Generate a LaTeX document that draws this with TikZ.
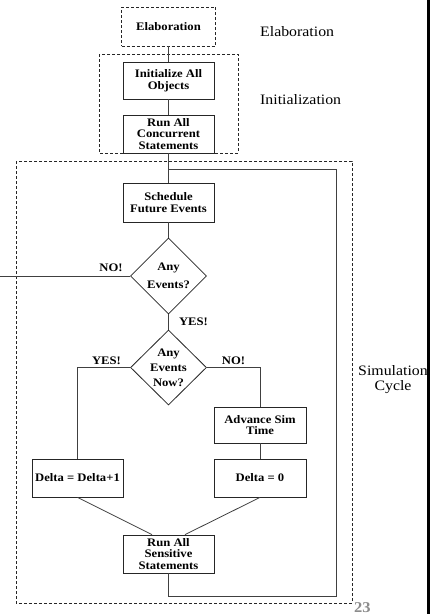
\documentclass[tikz,border=0pt]{standalone}
\usepackage{fontspec}
\setmainfont{Liberation Serif}[FakeStretch=1.1]
\usetikzlibrary{shapes.geometric,calc}
\begin{document}
\begin{tikzpicture}[x=1pt,y=-1pt,
  ln/.style={draw=black!75, line width=0.8pt},
  dbox/.style={draw=black!85, dash pattern=on 3pt off 2pt, line width=0.7pt},
  box/.style={draw=black!85, line width=0.8pt, rectangle, minimum width=91pt, minimum height=38pt, inner sep=0pt, align=center, font=\bfseries\fontsize{11.5}{11.5}\selectfont},
  dia/.style={draw=black!85, line width=0.8pt, diamond, aspect=1, minimum width=76pt, minimum height=76pt, inner sep=0pt, align=center},
  lab/.style={font=\bfseries\fontsize{11.5}{12}\selectfont, inner sep=0pt},
  side/.style={font=\fontsize{14.4}{15}\selectfont, inner sep=0pt, align=center}]
\useasboundingbox (0,0) rectangle (430,614);
\fill[white] (0,0) rectangle (430,614);
% right black bar
\fill[black] (427,0) rectangle (430,614);
% dashed group frames
\draw[dbox] (99,54) rectangle (238,153);
\draw[dbox] (16,161) rectangle (352,603);
% nodes
\node[dbox, rectangle, minimum width=94pt, minimum height=39pt, inner sep=0pt, font=\bfseries\fontsize{11.5}{11.5}\selectfont] (elab) at (168.5,26.5) {Elaboration};
\node[box, minimum height=37pt] (init) at (168.5,80.5) {Initialize All\\Objects};
\node[box] (runconc) at (168.5,134) {Run All\\Concurrent\\Statements};
\node[box, minimum height=39pt] (sched) at (168.5,202.5) {Schedule\\Future Events};
\node[dia, font=\bfseries\fontsize{11.5}{18}\selectfont] (anyev) at (168.5,276) {Any\\Events?};
\node[dia, minimum height=75pt, font=\bfseries\fontsize{11.5}{15}\selectfont] (anynow) at (168.5,367.5) {Any\\Events\\Now?};
\node[box, minimum width=92pt, minimum height=36pt] (adv) at (260,425) {Advance Sim\\Time};
\node[box, minimum width=92pt] (d0) at (260,478) {Delta = 0};
\node[box] (d1) at (77.5,478) {Delta = Delta+1};
\node[box] (runsens) at (168.5,554) {Run All\\Sensitive\\Statements};
% side labels
\node[side, anchor=west] (lelab) at (260,32) {Elaboration};
\node[side, anchor=west] (linit) at (260,100) {Initialization};
\node[side] (lsim) at (393,380) {Simulation\\Cycle};
\node[font=\bfseries\fontsize{15}{15}\selectfont, text=black!45, inner sep=0pt, anchor=base west] (pnum) at (354,612) {23};
% branch labels
\node[lab] (no1) at (111,268) {NO!};
\node[lab] (yes1) at (193.5,322) {YES!};
\node[lab] (yes2) at (106.5,361) {YES!};
\node[lab] (no2) at (233.5,361) {NO!};
% coordinates
\coordinate (exit) at (0,276);
\coordinate (join) at (168.5,169);
\coordinate (loopTR) at (336,169);
\coordinate (loopB) at (168.5,596);
% connectors
\draw[ln] (elab) -- (init);
\draw[ln] (init) -- (runconc);
\draw[ln] (runconc) -- (sched);
\draw[ln] (sched) -- (anyev);
\draw[ln] (anyev) -- (anynow);
\draw[ln] (anyev.west) -- (exit);
\draw[ln] (anynow.west) -| (d1.north);
\draw[ln] (anynow.east) -| (adv.north);
\draw[ln] (adv) -- (d0);
\draw[ln] (d1.south) -- ($(runsens.north west)!0.32!(runsens.north east)$);
\draw[ln] (d0.south) -- ($(runsens.north west)!0.68!(runsens.north east)$);
\draw[ln] (runsens.south) -- (loopB) -| (loopTR) -- (join);
\end{tikzpicture}
\end{document}
